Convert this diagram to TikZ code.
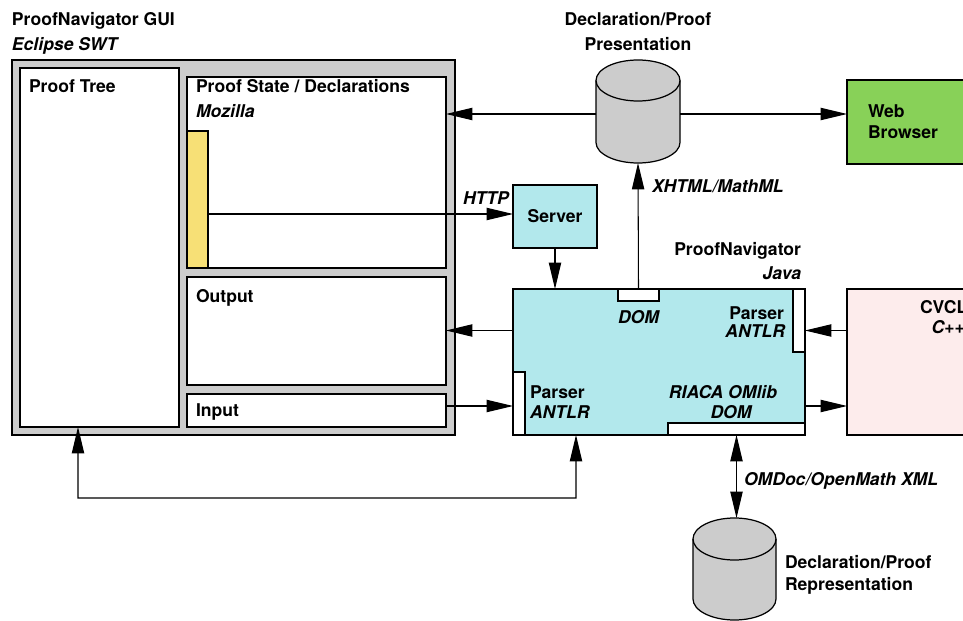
\documentclass[tikz,border=0pt]{standalone}
\usepackage{fontspec}
\setmainfont{TeX Gyre Heros}
\usetikzlibrary{arrows.meta}

\definecolor{guigray}{RGB}{204,204,204}
\definecolor{mozyellow}{RGB}{247,224,118}
\definecolor{pncyan}{RGB}{178,232,236}
\definecolor{webgreen}{RGB}{136,209,88}
\definecolor{cvclpink}{RGB}{253,236,236}

\begin{document}
\begin{tikzpicture}
[font=\fontsize{10pt}{12pt}\selectfont\bfseries,
every node/.style={inner sep=0pt,outer sep=0pt},
box/.style={draw,line width=0.7pt,rectangle},
db/.style={draw,line width=0.7pt,fill=guigray},
lbl/.style={anchor=base west},
ital/.style={font=\fontsize{10pt}{12pt}\selectfont\bfseries\itshape},
arr/.style={line width=0.6pt,-{Triangle[length=15pt,width=7pt]}},
darr/.style={line width=0.6pt,{Triangle[length=15pt,width=7pt]}-{Triangle[length=15pt,width=7pt]}}]
\useasboundingbox (0,0) rectangle (19.26,-12.42);

% GUI side
\node[box,fill=guigray,minimum width=8.86cm,minimum height=7.5cm] (gui) at (4.67,-4.95) {};
\node[box,fill=white,minimum width=3.18cm,minimum height=7.18cm] (tree) at (1.99,-4.95) {};
\node[box,fill=white,minimum width=5.18cm,minimum height=3.82cm] (state) at (6.33,-3.45) {};
\node[box,fill=mozyellow,minimum width=0.42cm,minimum height=2.74cm] (bar) at (3.95,-3.99) {};
\node[box,fill=white,minimum width=5.18cm,minimum height=2.16cm] (output) at (6.33,-6.62) {};
\node[box,fill=white,minimum width=5.18cm,minimum height=0.66cm] (input) at (6.33,-8.21) {};
\node[lbl] (guiname) at (0.24,-0.52) {ProofNavigator GUI};
\node[lbl,ital] (guilib) at (0.24,-1.02) {Eclipse SWT};
\node[lbl] (treename) at (0.58,-1.86) {Proof Tree};
\node[lbl] (statename) at (3.92,-1.86) {Proof State / Declarations};
\node[lbl,ital] (statelib) at (3.92,-2.36) {Mozilla};
\node[lbl] (outname) at (3.92,-6.04) {Output};
\node[lbl] (inname) at (3.92,-8.32) {Input};

% ProofNavigator core
\node[box,fill=pncyan,minimum width=1.68cm,minimum height=1.26cm] (server) at (11.10,-4.33) {Server};
\node[box,fill=pncyan,minimum width=5.84cm,minimum height=2.92cm] (pn) at (13.18,-7.24) {};
\node[box,fill=white,minimum width=0.82cm,minimum height=0.24cm] (domtop) at (12.77,-5.90) {};
\node[box,fill=white,minimum width=0.24cm,minimum height=1.26cm] (parserR) at (15.98,-6.41) {};
\node[box,fill=white,minimum width=0.24cm,minimum height=1.26cm] (parserL) at (10.38,-8.07) {};
\node[box,fill=white,minimum width=2.74cm,minimum height=0.24cm] (domB) at (14.73,-8.58) {};
\node[anchor=base east] (pnname) at (16.02,-5.12) {ProofNavigator};
\node[anchor=base east,ital] (pnlib) at (16.02,-5.60) {Java};
\node[anchor=base,ital] (domtopname) at (12.77,-6.46) {DOM};
\node[anchor=base east] (parserRname) at (15.68,-6.38) {Parser};
\node[anchor=base east,ital] (parserRlib) at (15.70,-6.76) {ANTLR};
\node[lbl] (parserLname) at (10.60,-7.96) {Parser};
\node[lbl,ital] (parserLlib) at (10.60,-8.36) {ANTLR};
\node[anchor=base,ital] (omlib) at (14.46,-7.96) {RIACA OMlib};
\node[anchor=base,ital] (domBname) at (14.62,-8.36) {DOM};

% outside
\node[box,fill=webgreen,minimum width=3.2cm,minimum height=1.68cm] (web) at (18.54,-2.44) {};
\node[lbl] (webname) at (17.36,-2.36) {Web};
\node[lbl] (webname2) at (17.36,-2.78) {Browser};
\node[box,fill=cvclpink,minimum width=3.2cm,minimum height=2.92cm] (cvcl) at (18.54,-7.24) {};
\node[lbl] (cvclname) at (18.40,-6.26) {CVCL};
\node[lbl,ital] (cvcllib) at (18.63,-6.68) {C++};

% the two stores
\node[minimum width=1.68cm,minimum height=2.06cm] (pres) at (12.76,-2.23) {};
\path[db] ([yshift=-0.41cm]pres.north west) -- ([yshift=0.41cm]pres.south west)
  arc (180:360:0.84cm and 0.41cm) -- ([yshift=-0.41cm]pres.north east)
  arc (0:180:0.84cm and 0.41cm) -- cycle;
\draw[line width=0.7pt] ([yshift=-0.41cm]pres.north west) arc (180:360:0.84cm and 0.41cm);
\node[anchor=base] (presname) at (12.76,-0.52) {Declaration/Proof};
\node[anchor=base] (presname2) at (12.76,-1.02) {Presentation};
\node[minimum width=1.66cm,minimum height=2.04cm] (repr) at (14.69,-11.38) {};
\path[db] ([yshift=-0.42cm]repr.north west) -- ([yshift=0.42cm]repr.south west)
  arc (180:360:0.83cm and 0.42cm) -- ([yshift=-0.42cm]repr.north east)
  arc (0:180:0.83cm and 0.42cm) -- cycle;
\draw[line width=0.7pt] ([yshift=-0.42cm]repr.north west) arc (180:360:0.83cm and 0.42cm);
\node[lbl] (reprname) at (15.70,-11.36) {Declaration/Proof};
\node[lbl] (reprname2) at (15.70,-11.80) {Representation};

% connectors
\draw[arr] (pres.west |- 0,-2.28) -- (state.east |- 0,-2.28);
\draw[arr] (pres.east |- 0,-2.28) -- (web.west |- 0,-2.28);
\draw[arr] (domtop.north) -- (pres.south);
\node[lbl,ital] (xhtml) at (13.04,-3.86) {XHTML/MathML};
\draw[arr] (bar.east |- 0,-4.28) -- (server.west |- 0,-4.28);
\node[lbl,ital] (http) at (9.26,-4.10) {HTTP};
\draw[arr] (server.south) -- (server.south |- pn.north);
\draw[arr] (pn.west |- 0,-6.61) -- (output.east |- 0,-6.61);
\draw[arr] (input.east |- 0,-8.12) -- (parserL.west |- 0,-8.12);
\draw[arr] (cvcl.west |- 0,-6.61) -- (parserR.east |- 0,-6.61);
\draw[arr] (pn.east |- 0,-8.12) -- (cvcl.west |- 0,-8.12);
\draw[darr] (domB.south) -- (domB.south |- repr.north);
\node[lbl,ital] (omdoc) at (14.88,-9.70) {OMDoc/OpenMath XML};
\draw[darr] ([xshift=-1.66cm]pn.south) |- (1.56,-9.96) -- ([xshift=-0.43cm]tree.south);
\end{tikzpicture}
\end{document}
